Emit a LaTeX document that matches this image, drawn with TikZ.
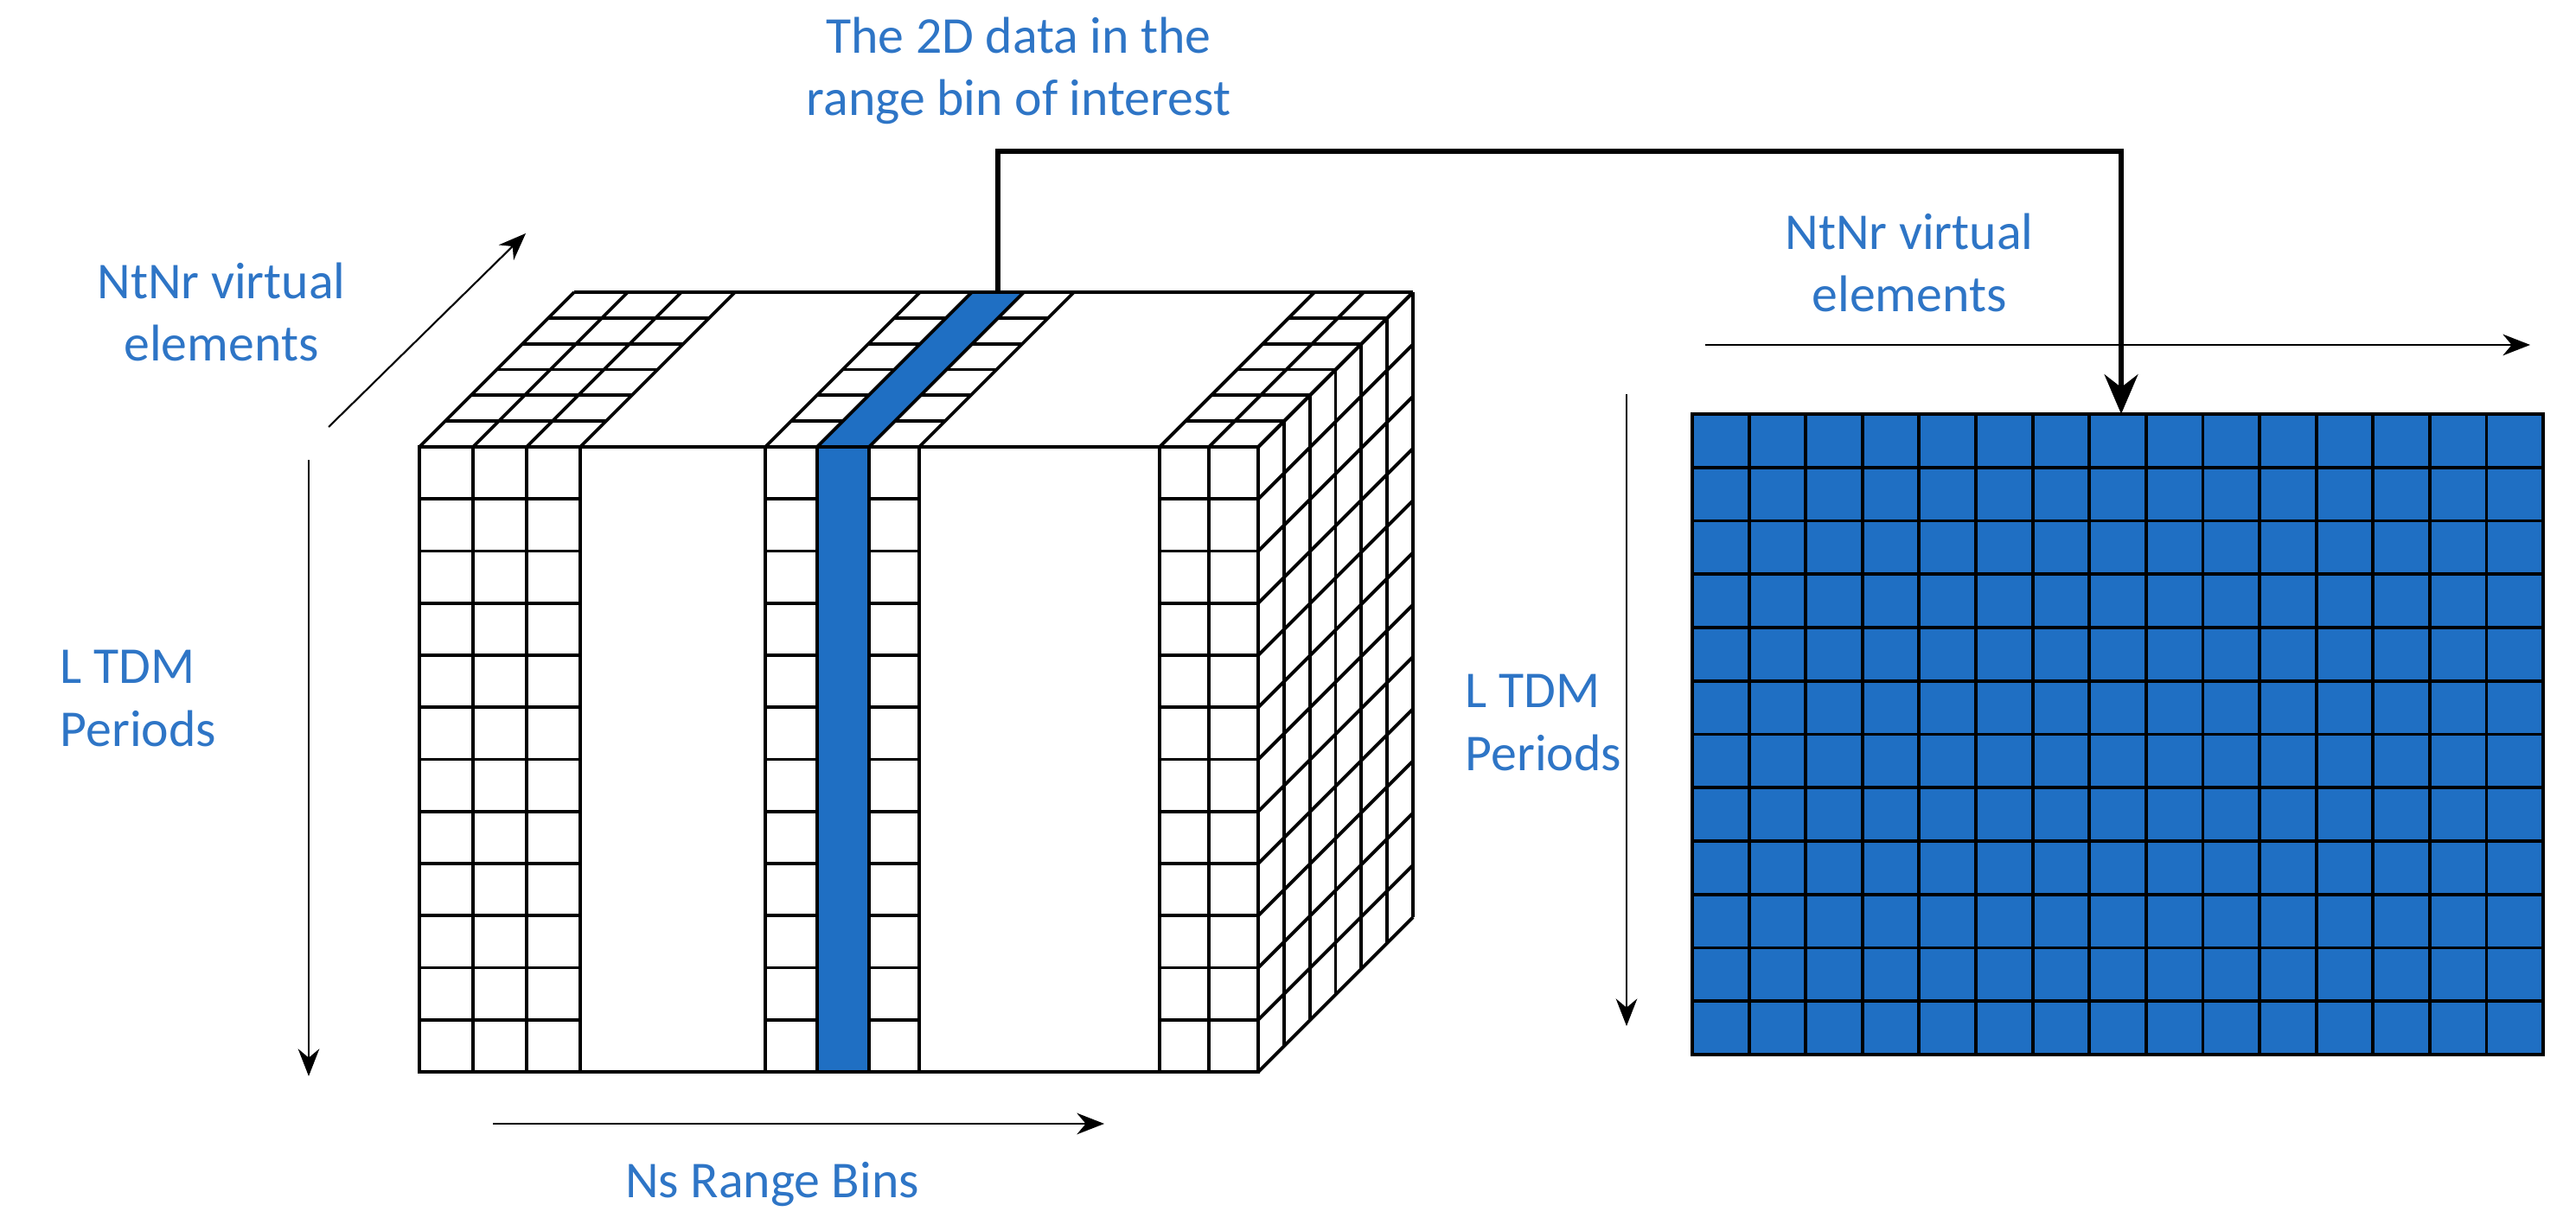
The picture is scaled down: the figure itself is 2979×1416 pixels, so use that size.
\documentclass[tikz,border=0pt]{standalone}
\usepackage{fontspec}
\setmainfont{Carlito}
\usetikzlibrary{arrows.meta}
\definecolor{lblue}{HTML}{2E75C6}
\definecolor{fblue}{HTML}{1F6FC3}
\tikzset{
  lbl/.style={text=lblue,font=\fontsize{17}{20.5}\selectfont,align=center},
  grid/.style={line width=1.1pt,black},
  axis/.style={line width=0.6pt,-{Stealth[length=9pt,width=7pt]}},
  link/.style={line width=1.8pt,-{Stealth[length=13pt,width=11pt]}}
}
\begin{document}
\begin{tikzpicture}[x=0.01cm,y=-0.01cm]
\useasboundingbox (0,0) rectangle (2979,1416);
\def\dx{179}\def\dy{-179}
% front face strips
\foreach \xa/\xb in {485/671,885/1063,1341/1455}{
  \foreach \r in {1,...,11}{\draw[grid] (\xa,517+\r*60.25) -- (\xb,517+\r*60.25);}
}
\foreach \x in {485,547,609,671,885,945,1005,1063,1341,1398,1455}{
  \draw[grid] (\x,517) -- (\x,1240);
  \draw[grid] (\x,517) -- ++(\dx,\dy);
}
% top face cross lines
\foreach \xa/\xb in {485/671,885/1063,1341/1455}{
  \foreach \k in {1,...,5}{\draw[grid] (\xa+\k*29.833,517-\k*29.833) -- (\xb+\k*29.833,517-\k*29.833);}
}
% blue strip
\filldraw[fblue,draw=black,line width=1.1pt] (945,517) rectangle (1005,1240);
\filldraw[fblue,draw=black,line width=1.1pt] (945,517) -- (1005,517) -- ++(\dx,\dy) -- ++(-60,0) -- cycle;
% right face
\foreach \k in {1,...,6}{\draw[grid] (1455+\k*29.833,517-\k*29.833) -- ++(0,723);}
\foreach \r in {0,...,12}{\draw[grid] (1455,517+\r*60.25) -- ++(\dx,\dy);}
% outline
\draw[grid] (485,517) rectangle (1455,1240);
\draw[grid] (485+\dx,517+\dy) -- (1455+\dx,517+\dy);
% right grid
\node[draw,fill=fblue,line width=1.1pt,minimum width=9.84cm,minimum height=7.41cm,inner sep=0pt] (mat) at (2449,849.5) {};
\foreach \i in {1,...,14}{\draw[grid] (1957+\i*65.6,479) -- (1957+\i*65.6,1220);}
\foreach \j in {1,...,11}{\draw[grid] (1957,479+\j*61.75) -- (2941,479+\j*61.75);}
% connector
\coordinate (bt) at (1154,338);
\coordinate (gt) at (2453,479);
\draw[link] (bt) -- (1154,175) -| (gt);
% axes
\draw[axis] (380,494) -- (608,270);
\draw[axis] (357,532) -- (357,1245);
\draw[axis] (570,1300) -- (1277,1300);
\draw[axis] (1972,399) -- (2926,399);
\draw[axis] (1881,456) -- (1881,1187);
% labels
\node[lbl] (t1) at (1178,82) {The 2D data in the\\range bin of interest};
\node[lbl] (t2) at (256,361) {NtNr virtual\\elements};
\node[lbl,align=left] (t3) at (160,808) {L TDM\\Periods};
\node[lbl] (t4) at (893,1370) {Ns Range Bins};
\node[lbl] (t5) at (2208,304) {NtNr virtual\\elements};
\node[lbl,align=left] (t6) at (1785,836) {L TDM\\Periods};
\end{tikzpicture}
\end{document}
